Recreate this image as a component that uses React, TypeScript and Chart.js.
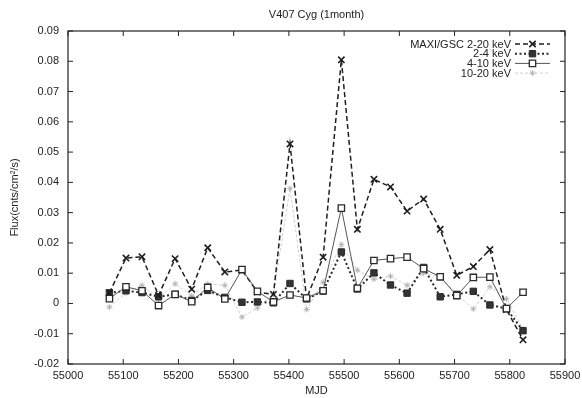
import React, { useEffect, useRef } from "react";
import { Chart, registerables } from "chart.js";

Chart.register(...registerables);

const chartTitle = "V407 Cyg (1month)";
const xTitle = "MJD";
const yTitle = "Flux(cnts/cm\u00B2/s)";

const mjd = [55075, 55105, 55134, 55164, 55194, 55224, 55253, 55284, 55315, 55343, 55372, 55402, 55432, 55462, 55495, 55524, 55554, 55584, 55614, 55644, 55674, 55704, 55734, 55764, 55794, 55824];

const maxi = [0.0035, 0.0150, 0.0154, 0.0027, 0.0148, 0.0047, 0.0184, 0.0104, 0.0110, 0.0038, 0.0030, 0.0527, 0.0016, 0.0153, 0.0805, 0.0245, 0.0410, 0.0385, 0.0305, 0.0345, 0.0245, 0.0093, 0.0122, 0.0178, -0.0020, -0.0120];
const soft = [0.0035, 0.0042, 0.0036, 0.0022, 0.0030, 0.0010, 0.0043, 0.0020, 0.0004, 0.0005, 0.0002, 0.0066, 0.0015, 0.0041, 0.0170, 0.0048, 0.0101, 0.0061, 0.0034, 0.0119, 0.0022, 0.0030, 0.0040, -0.0005, -0.0017, -0.0090];
const mid = [0.0016, 0.0055, 0.0042, -0.0007, 0.0030, 0.0006, 0.0053, 0.0015, 0.0112, 0.0040, 0.0005, 0.0028, 0.0018, 0.0042, 0.0315, 0.0050, 0.0142, 0.0148, 0.0153, 0.0115, 0.0088, 0.0026, 0.0086, 0.0087, -0.0017, 0.0037];
const hard = [-0.0012, 0.0035, 0.0060, 0.0015, 0.0065, 0.0025, 0.0065, 0.0060, -0.0045, -0.0015, 0.0030, 0.0380, -0.0020, 0.0070, 0.0195, 0.0110, 0.0080, 0.0090, 0.0060, 0.0100, 0.0090, 0.0030, -0.0018, 0.0055, 0.0015, -0.0085];

const seriesLabels = ["MAXI/GSC 2-20 keV", "2-4 keV", "4-10 keV", "10-20 keV"];

const yMin = -0.02;
const yMax = 0.09;
const yStep = 0.01;
const xMin = 55000;
const xMax = 55900;
const xStep = 100;

const FONT = "'Liberation Sans', Arial, sans-serif";
const INK = "#222";

const pts = (ys: number[]) => ys.map((y, i) => ({ x: mjd[i], y }));

function drawPoint(ctx: CanvasRenderingContext2D, style: string, r: number, x: number, y: number) {
  ctx.beginPath();
  if (style === "rect") {
    const s = Math.SQRT1_2 * r;
    ctx.rect(x - s, y - s, 2 * s, 2 * s);
    ctx.fill();
    ctx.stroke();
  } else if (style === "crossRot") {
    const s = Math.SQRT1_2 * r;
    ctx.moveTo(x - s, y - s);
    ctx.lineTo(x + s, y + s);
    ctx.moveTo(x - s, y + s);
    ctx.lineTo(x + s, y - s);
    ctx.stroke();
  } else {
    ctx.moveTo(x - r, y);
    ctx.lineTo(x + r, y);
    ctx.moveTo(x, y - r);
    ctx.lineTo(x, y + r);
    const s = Math.SQRT1_2 * r;
    ctx.moveTo(x - s, y - s);
    ctx.lineTo(x + s, y + s);
    ctx.moveTo(x - s, y + s);
    ctx.lineTo(x + s, y - s);
    ctx.stroke();
  }
}

const framePlugin = {
  id: "gnuFrame",
  afterDatasetsDraw(chart: any) {
    const { ctx, chartArea: a, scales } = chart;
    ctx.save();
    // title centred over the plot area (gnuplot style)
    ctx.font = `11px ${FONT}`;
    ctx.fillStyle = INK;
    ctx.textAlign = "center";
    ctx.textBaseline = "middle";
    ctx.fillText(chartTitle, (a.left + a.right) / 2, 15);

    ctx.strokeStyle = INK;
    ctx.lineWidth = 1.2;
    ctx.setLineDash([]);
    ctx.strokeRect(a.left, a.top, a.right - a.left, a.bottom - a.top);
    const tl = 5;
    ctx.lineWidth = 1;
    ctx.beginPath();
    scales.x.ticks.forEach((t: any) => {
      const px = scales.x.getPixelForValue(t.value);
      ctx.moveTo(px, a.bottom);
      ctx.lineTo(px, a.bottom - tl);
      ctx.moveTo(px, a.top);
      ctx.lineTo(px, a.top + tl);
    });
    scales.y.ticks.forEach((t: any) => {
      const py = scales.y.getPixelForValue(t.value);
      ctx.moveTo(a.left, py);
      ctx.lineTo(a.left + tl, py);
      ctx.moveTo(a.right, py);
      ctx.lineTo(a.right - tl, py);
    });
    ctx.stroke();

    // gnuplot-style key
    const textRight = a.right - 54;
    const x0 = a.right - 50;
    const x1 = a.right - 15;
    const rowY0 = a.top + 13;
    const rowH = 9.7;
    ctx.font = `11px ${FONT}`;
    ctx.textAlign = "right";
    ctx.textBaseline = "middle";
    chart.data.datasets.forEach((ds: any, i: number) => {
      const y = rowY0 + i * rowH;
      ctx.fillStyle = INK;
      ctx.fillText(ds.label, textRight, y + 0.5);
      ctx.save();
      ctx.strokeStyle = ds.borderColor;
      ctx.lineWidth = ds.borderWidth;
      ctx.setLineDash(ds.borderDash || []);
      ctx.beginPath();
      ctx.moveTo(x0, y);
      ctx.lineTo(x1, y);
      ctx.stroke();
      ctx.restore();
      ctx.save();
      ctx.setLineDash([]);
      ctx.strokeStyle = ds.pointBorderColor;
      ctx.fillStyle = ds.pointBackgroundColor;
      ctx.lineWidth = ds.pointBorderWidth;
      drawPoint(ctx, ds.pointStyle, ds.pointRadius, (x0 + x1) / 2, y);
      ctx.restore();
    });
    ctx.restore();
  },
};

export default function App() {
  const ref = useRef<HTMLCanvasElement | null>(null);

  useEffect(() => {
    document.body.style.margin = "0";
    const canvas = ref.current;
    if (!canvas) return;
    const chart = new Chart(canvas, {
      type: "line",
      data: {
        datasets: [
          {
            label: seriesLabels[0],
            data: pts(maxi),
            borderColor: "#1e1e1e",
            borderWidth: 1.5,
            borderDash: [5, 3],
            pointStyle: "crossRot",
            pointRadius: 4.5,
            pointBorderWidth: 1.6,
            pointBorderColor: "#1e1e1e",
            pointBackgroundColor: "#1e1e1e",
            fill: false,
            tension: 0,
            order: 1,
          },
          {
            label: seriesLabels[1],
            data: pts(soft),
            borderColor: "#2a2a2a",
            borderWidth: 2,
            borderDash: [2, 2.5],
            pointStyle: "rect",
            pointRadius: 4.5,
            pointBorderWidth: 1,
            pointBorderColor: "#2a2a2a",
            pointBackgroundColor: "#333",
            fill: false,
            tension: 0,
            order: 2,
          },
          {
            label: seriesLabels[2],
            data: pts(mid),
            borderColor: "#555",
            borderWidth: 1,
            borderDash: [],
            pointStyle: "rect",
            pointRadius: 4.5,
            pointBorderWidth: 1.3,
            pointBorderColor: "#2a2a2a",
            pointBackgroundColor: "#ffffff",
            fill: false,
            tension: 0,
            order: 0,
          },
          {
            label: seriesLabels[3],
            data: pts(hard),
            borderColor: "#c4c4c4",
            borderWidth: 0.8,
            borderDash: [3, 2],
            pointStyle: "star",
            pointRadius: 3,
            pointBorderWidth: 0.8,
            pointBorderColor: "#aaaaaa",
            pointBackgroundColor: "#aaaaaa",
            fill: false,
            tension: 0,
            order: 3,
          },
        ],
      },
      options: {
        responsive: false,
        animation: false,
        events: [],
        layout: { padding: { left: 0, right: 17, top: 31, bottom: 0 } },
        plugins: {
          legend: { display: false },
          tooltip: { enabled: false },
          title: { display: false },
        },
        scales: {
          x: {
            type: "linear",
            min: xMin,
            max: xMax,
            grid: { display: false, drawTicks: false, tickLength: 0 },
            border: { display: false },
            ticks: {
              stepSize: xStep,
              autoSkip: false,
              maxRotation: 0,
              padding: 5,
              color: INK,
              font: { family: FONT, size: 11 },
              callback: (v: any) => String(Math.round(Number(v))),
            },
            title: {
              display: true,
              text: xTitle,
              color: INK,
              font: { family: FONT, size: 11 },
              padding: { top: 0, bottom: 0 },
            },
            afterFit: (s: any) => {
              s.height = 34;
              s.paddingLeft = 0;
              s.paddingRight = 0;
            },
          },
          y: {
            type: "linear",
            min: yMin,
            max: yMax,
            grid: { display: false, drawTicks: false, tickLength: 0 },
            border: { display: false },
            ticks: {
              stepSize: yStep,
              autoSkip: false,
              padding: 9,
              color: INK,
              font: { family: FONT, size: 11 },
              callback: (v: any) => {
                const n = Math.round(Number(v) * 100) / 100;
                return n === 0 ? "0" : n.toFixed(2);
              },
            },
            title: {
              display: true,
              text: yTitle,
              color: INK,
              font: { family: FONT, size: 11 },
              padding: { top: 8, bottom: 0 },
            },
            afterFit: (s: any) => {
              s.width = 68;
              s.paddingTop = 0;
              s.paddingBottom = 0;
            },
          },
        },
      },
      plugins: [framePlugin],
    });
    return () => chart.destroy();
  }, []);

  return (
    <div style={{ position: "absolute", left: 0, top: 0, width: 582, height: 398, background: "#fff" }}>
      <canvas ref={ref} width={582} height={398} />
    </div>
  );
}
